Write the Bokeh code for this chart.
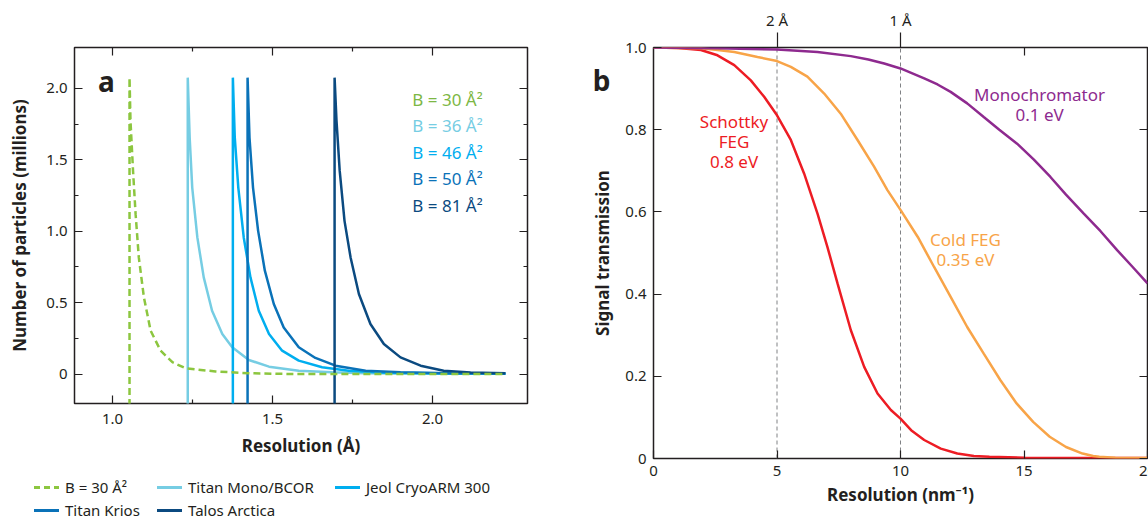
from bokeh.plotting import figure
from bokeh.models import (Range1d, LinearAxis, FixedTicker, ColumnDataSource, Label, Div)
from bokeh.layouts import row, column
from bokeh.embed import file_html
from bokeh.resources import INLINE
from bokeh.core.properties import value

FONT = "Noto Sans"
INK = "#231F20"

# ---------------- Panel a: particles needed vs resolution ----------------
b30_x = [1.053, 1.053, 1.056, 1.064, 1.072, 1.082, 1.098, 1.119, 1.150, 1.187, 1.228, 1.322, 1.426, 1.550, 2.228]
b30_y = [-0.30, 2.076, 1.773, 1.423, 1.120, 0.817, 0.537, 0.304, 0.164, 0.083, 0.041, 0.018, 0.006, 0.001, 0.000]

mono_x = [1.235, 1.235, 1.241, 1.249, 1.265, 1.285, 1.311, 1.343, 1.374, 1.426, 1.489, 1.582, 1.687, 1.791, 2.000, 2.228]
mono_y = [-0.30, 2.076, 1.656, 1.306, 0.957, 0.677, 0.444, 0.281, 0.188, 0.099, 0.052, 0.024, 0.013, 0.006, 0.003, 0.002]

jeol_x = [1.376, 1.376, 1.382, 1.393, 1.410, 1.431, 1.457, 1.489, 1.530, 1.582, 1.655, 1.738, 1.850, 2.000, 2.228]
jeol_y = [-0.30, 2.076, 1.656, 1.306, 0.957, 0.677, 0.444, 0.281, 0.164, 0.094, 0.048, 0.024, 0.010, 0.005, 0.003]

krios_x = [1.422, 1.422, 1.428, 1.439, 1.455, 1.476, 1.504, 1.535, 1.582, 1.634, 1.697, 1.791, 1.900, 2.050, 2.228]
krios_y = [-0.30, 2.076, 1.656, 1.306, 1.003, 0.724, 0.491, 0.327, 0.188, 0.113, 0.059, 0.024, 0.012, 0.006, 0.004]

talos_x = [1.694, 1.694, 1.700, 1.710, 1.725, 1.744, 1.770, 1.806, 1.848, 1.900, 1.963, 2.035, 2.119, 2.228]
talos_y = [-0.30, 2.076, 1.773, 1.423, 1.073, 0.817, 0.561, 0.351, 0.211, 0.117, 0.059, 0.024, 0.011, 0.005]

legend_names = ["B = 30 Å²", "Titan Mono/BCOR", "Jeol CryoARM 300", "Titan Krios", "Talos Arctica"]
bfactor_labels = ["B = 30 Å²", "B = 36 Å²", "B = 46 Å²", "B = 50 Å²", "B = 81 Å²"]

a_x_ticks = [1.0, 1.5, 2.0]
a_x_tick_labels = ["1.0", "1.5", "2.0"]
a_x_minor = [1.25, 1.75]
a_y_ticks = [0, 0.5, 1.0, 1.5, 2.0]
a_y_tick_labels = ["0", "0.5", "1.0", "1.5", "2.0"]
a_y_minor = [0.25, 0.75, 1.25, 1.75]

# ---------------- Panel b: signal transmission ----------------
schottky_x = [0, 1.0, 1.92, 2.59, 3.27, 3.94, 4.48, 5.0, 5.56, 6.1, 6.64, 7.04, 7.45, 7.99, 8.53, 9.07, 9.61, 10.0,
              10.43, 10.96, 11.63, 12.3, 12.97, 13.6, 15.0, 17.5, 20.0]
schottky_y = [1.0, 0.999, 0.994, 0.981, 0.957, 0.92, 0.88, 0.835, 0.775, 0.693, 0.596, 0.515, 0.426, 0.312, 0.223,
              0.158, 0.118, 0.097, 0.069, 0.045, 0.024, 0.012, 0.006, 0.004, 0.002, 0.001, 0.001]

cold_x = [0, 1.0, 1.92, 2.6, 3.27, 4.21, 5.0, 5.56, 6.23, 6.91, 7.58, 8.26, 8.93, 9.47, 10.0, 10.7, 11.36, 12.03,
          12.7, 13.37, 14.04, 14.7, 15.37, 16.04, 16.7, 17.37, 17.8, 18.05, 18.7, 19.3, 20.0]
cold_y = [1.0, 0.999, 0.998, 0.994, 0.989, 0.977, 0.967, 0.953, 0.929, 0.888, 0.839, 0.775, 0.71, 0.653, 0.605,
          0.539, 0.466, 0.393, 0.32, 0.255, 0.191, 0.134, 0.089, 0.053, 0.028, 0.012, 0.006, 0.004, 0.002, 0.001, 0.001]

mono_b_x = [0, 2.59, 3.5, 5.0, 6.64, 7.99, 8.7, 9.34, 10.0, 10.96, 11.5, 12.03, 12.7, 13.37, 14.0, 14.72, 15.4,
            16.07, 16.7, 17.42, 18.1, 18.77, 19.4, 20.0]
mono_b_y = [1.0, 0.998, 0.997, 0.995, 0.989, 0.979, 0.971, 0.961, 0.949, 0.925, 0.910, 0.892, 0.864, 0.831, 0.800,
            0.766, 0.727, 0.685, 0.642, 0.596, 0.553, 0.507, 0.466, 0.426]

source_labels = [["Schottky", "FEG", "0.8 eV"], ["Cold FEG", "0.35 eV"], ["Monochromator", "0.1 eV"]]

b_x_ticks = [0, 5, 10, 15, 20]
b_x_tick_labels = ["0", "5", "10", "15", "20"]
b_y_ticks = [0, 0.2, 0.4, 0.6, 0.8, 1.0]
b_y_tick_labels = ["0", "0.2", "0.4", "0.6", "0.8", "1.0"]
angstrom_marks = [5, 10]
angstrom_labels = ["2 Å", "1 Å"]

# colours
C_GREEN = "#8CC63F"
C_LBLUE = "#76CDE3"
C_JEOL = "#00AEEF"
C_KRIOS = "#0A72B8"
C_TALOS = "#0B4A80"
C_RED = "#ED1C24"
C_ORANGE = "#F8A448"
C_PURPLE = "#8E2A8F"
C_GRAY = "#808285"


def style_axis(ax, ticks, labels=None, major_in=8, minor_in=4):
    ax.axis_line_color = None
    ax.major_tick_in = major_in
    ax.major_tick_out = 0
    ax.minor_tick_in = minor_in
    ax.minor_tick_out = 0
    ax.major_tick_line_color = INK
    ax.minor_tick_line_color = INK
    ax.major_tick_line_width = 1.2
    ax.minor_tick_line_width = 1.2
    ax.major_label_text_font = FONT
    ax.major_label_text_font_size = "15px"
    ax.major_label_text_color = INK
    ax.axis_label_text_font = FONT
    ax.axis_label_text_font_size = "17px"
    ax.axis_label_text_font_style = "bold"
    ax.axis_label_text_color = INK
    if labels is None:
        ax.major_label_overrides = {t: "" for t in ticks}
        ax.major_label_text_font_size = "1px"
        ax.major_label_standoff = 0
    else:
        ax.major_label_overrides = {t: l for t, l in zip(ticks, labels)}


def base_fig(**kw):
    p = figure(output_backend="svg", toolbar_location=None, **kw)
    p.xgrid.visible = False
    p.ygrid.visible = False
    p.outline_line_color = INK
    p.outline_line_width = 1.5
    p.outline_line_alpha = 1
    p.background_fill_color = "white"
    p.border_fill_color = "white"
    return p


# ================= Panel a =================
PA_W = 542
pa = base_fig(width=PA_W, height=466,
              x_range=Range1d(0.881, 2.297), y_range=Range1d(-0.206, 2.287),
              min_border_left=74, min_border_right=15, min_border_top=47, min_border_bottom=63)

pa.xaxis.ticker = FixedTicker(ticks=a_x_ticks, minor_ticks=a_x_minor)
pa.yaxis.ticker = FixedTicker(ticks=a_y_ticks, minor_ticks=a_y_minor)
pa.xaxis.axis_label = "Resolution (Å)"
pa.yaxis.axis_label = "Number of particles (millions)"
style_axis(pa.xaxis[0], a_x_ticks, a_x_tick_labels)
style_axis(pa.yaxis[0], a_y_ticks, a_y_tick_labels)
pa.xaxis.major_label_standoff = 10
pa.xaxis.axis_label_standoff = 7
pa.yaxis.major_label_standoff = 7
pa.yaxis.axis_label_standoff = 12

ax_top = LinearAxis(ticker=FixedTicker(ticks=a_x_ticks, minor_ticks=a_x_minor))
style_axis(ax_top, a_x_ticks)
pa.add_layout(ax_top, "above")
ax_right = LinearAxis(ticker=FixedTicker(ticks=a_y_ticks, minor_ticks=a_y_minor))
style_axis(ax_right, a_y_ticks)
pa.add_layout(ax_right, "right")

series_a = [
    (mono_x, mono_y, C_LBLUE, "solid"),
    (jeol_x, jeol_y, C_JEOL, "solid"),
    (krios_x, krios_y, C_KRIOS, "solid"),
    (talos_x, talos_y, C_TALOS, "solid"),
    (b30_x, b30_y, C_GREEN, "7 4"),
]
for xs, ys, col, dash in series_a:
    pa.line(xs, ys, line_color=col, line_width=2.5, line_dash=dash)

lab_src = ColumnDataSource(dict(
    x=[1.937] * 5,
    y=[1.924, 1.743, 1.551, 1.372, 1.183],
    text=bfactor_labels,
    color=["#7DB744", C_LBLUE, C_JEOL, C_KRIOS, C_TALOS],
))
pa.text(x="x", y="y", text="text", text_color="color", source=lab_src,
        text_font=value(FONT), text_font_size="17px", text_align="left", text_baseline="middle")

pa.add_layout(Label(x=0.981, y=2.052, text="a", text_font=FONT, text_font_size="28px",
                    text_font_style="bold", text_color=INK, text_align="center", text_baseline="middle"))

# legend of panel a (below the panel), drawn as text with line keys
legend_colors = [C_GREEN, C_LBLUE, C_JEOL, C_KRIOS, C_TALOS]
legend_dashed = [True, False, False, False, False]
key_left = [29, 152, 330, 29, 152]
row_center = [16, 39]
item_row = [0, 0, 0, 1, 1]
parts = []
for name, col, dashed, kx, r in zip(legend_names, legend_colors, legend_dashed, key_left, item_row):
    cy = row_center[r]
    if dashed:
        bg = f"repeating-linear-gradient(to right, {col} 0px, {col} 6px, transparent 6px, transparent 10px)"
    else:
        bg = col
    parts.append(f'<div style="position:absolute;left:{kx}px;top:{cy - 1.5}px;width:25px;height:3px;background:{bg};"></div>')
    parts.append(f'<div style="position:absolute;left:{kx + 31}px;top:{cy - 10}px;height:20px;line-height:20px;'
                 f'white-space:nowrap;">{name}</div>')
legend_div = Div(text=f'<div style="position:relative;width:{PA_W}px;height:55px;font-family:\'{FONT}\';'
                      f'font-size:15px;color:{INK};">' + "".join(parts) + '</div>',
                 width=PA_W, height=55)

# ================= Panel b =================
pb = base_fig(width=1148 - PA_W, height=521, x_range=Range1d(0, 20), y_range=Range1d(0, 1),
              min_border_left=101, min_border_right=11, min_border_top=47, min_border_bottom=63)
pb.xaxis.ticker = FixedTicker(ticks=b_x_ticks)
pb.xaxis.axis_label = "Resolution (nm⁻¹)"
style_axis(pb.xaxis[0], b_x_ticks, b_x_tick_labels)
pb.xaxis.major_label_standoff = 7
pb.xaxis.axis_label_standoff = 4

yl = pb.yaxis[0]
yl.ticker = FixedTicker(ticks=b_y_ticks)
style_axis(yl, b_y_ticks, b_y_tick_labels)
yl.major_label_standoff = 7

# outer left axis carries the panel letter and the axis title
panel_letter_pos = [0.921]
yb = LinearAxis(ticker=FixedTicker(ticks=panel_letter_pos), axis_label="Signal transmission")
style_axis(yb, panel_letter_pos, ["b"], major_in=0)
yb.major_label_text_font_size = "28px"
yb.major_label_text_font_style = "bold"
yb.major_label_standoff = 12
yb.axis_label_standoff = -24
yb.major_tick_line_color = None
pb.add_layout(yb, "left")

bt = LinearAxis(ticker=FixedTicker(ticks=angstrom_marks, minor_ticks=[15]))
style_axis(bt, angstrom_marks, angstrom_labels)
bt.major_tick_in = 0
bt.major_tick_out = 15
bt.minor_tick_in = 8
bt.major_label_standoff = 3
pb.add_layout(bt, "above")
br = LinearAxis(ticker=FixedTicker(ticks=b_y_ticks))
style_axis(br, b_y_ticks)
pb.add_layout(br, "right")

pb.segment(x0=angstrom_marks, y0=[0] * len(angstrom_marks), x1=angstrom_marks, y1=[1] * len(angstrom_marks),
           line_color=C_GRAY, line_width=1, line_dash="4 3")

pb.line(schottky_x, schottky_y, line_color=C_RED, line_width=2.5)
pb.line(cold_x, cold_y, line_color=C_ORANGE, line_width=2.5)
pb.line(mono_b_x, mono_b_y, line_color=C_PURPLE, line_width=2.5)

txt_b = ColumnDataSource(dict(
    x=[3.26, 3.26, 3.26, 12.63, 12.63, 15.63, 15.63],
    y=[0.820, 0.771, 0.722, 0.532, 0.483, 0.885, 0.836],
    text=source_labels[0] + source_labels[1] + source_labels[2],
    color=[C_RED] * 3 + [C_ORANGE] * 2 + [C_PURPLE] * 2,
))
pb.text(x="x", y="y", text="text", text_color="color", source=txt_b,
        text_font=value(FONT), text_font_size="17px", text_align="center", text_baseline="middle")

layout = row(column(pa, legend_div), pb)
open("out.html", "w").write(file_html(layout, INLINE))
